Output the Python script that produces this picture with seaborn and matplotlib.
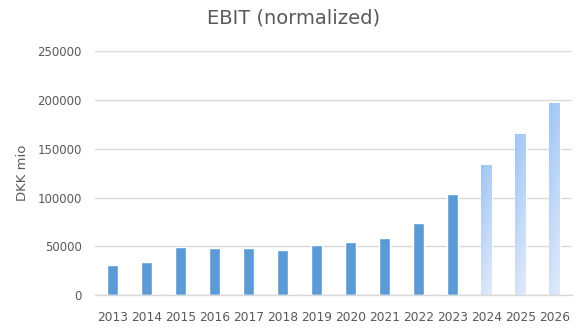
import numpy as np
import pandas as pd
import matplotlib
matplotlib.use("Agg")
import matplotlib.pyplot as plt
import matplotlib.ticker as mticker
from matplotlib.colors import LinearSegmentedColormap
import seaborn as sns

# EBIT (normalized), DKK mio; 2024 onwards are forecasts
years = [str(y) for y in range(2013, 2027)]
ebit = [31000, 34000, 49400, 48400, 48400, 46300, 51400,
        54500, 58700, 74100, 103900, 133600, 165400, 197200]
first_forecast = "2024"
y_ticks = [0, 50000, 100000, 150000, 200000, 250000]

df = pd.DataFrame({"year": years, "ebit": ebit})

sns.set_style("white")
plt.rcParams["font.family"] = ["DejaVu Sans"]

text_col = "#595959"
grid_col = "#d9d9d9"

fig = plt.figure(figsize=(5.87, 3.28), dpi=100)
ax = fig.add_axes([95.5 / 587, 1 - 295.3 / 328, 476 / 587, 244.3 / 328])

sns.barplot(data=df, x="year", y="ebit", color="#5b9bd5", saturation=1,
            width=0.32, ax=ax, zorder=2)

# forecast bars get a light blue gradient fill
grad_cmap = LinearSegmentedColormap.from_list("forecast", ["#dfeafb", "#a2c6f4"])
yy = np.linspace(0, 1, 256)[:, None]
xx = np.linspace(0, 1, 32)[None, :]
grad = np.clip(0.85 * yy + 0.25 * (1 - xx) - 0.05, 0, 1)
start = years.index(first_forecast)
for patch in ax.patches[start:len(years)]:
    x0, y0 = patch.get_x(), patch.get_y()
    w, h = patch.get_width(), patch.get_height()
    patch.set_facecolor("none")
    im = ax.imshow(grad, cmap=grad_cmap, origin="lower", aspect="auto",
                   extent=[x0, x0 + w, y0, y0 + h], vmin=0, vmax=1,
                   interpolation="bilinear", zorder=2)
    im.set_clip_path(patch)

ax.set_xlim(-0.5, len(years) - 0.5)
ax.set_ylim(0, 250000)
ax.set_yticks(y_ticks)
ax.yaxis.set_major_formatter(mticker.StrMethodFormatter("{x:.0f}"))
ax.yaxis.grid(True, color=grid_col, linewidth=1)
ax.set_axisbelow(True)
for side in ["top", "right", "left"]:
    ax.spines[side].set_visible(False)
ax.spines["bottom"].set_color(grid_col)
ax.spines["bottom"].set_linewidth(1)

ax.tick_params(axis="y", length=0, pad=10, labelsize=8.5, labelcolor=text_col)
ax.tick_params(axis="x", length=0, pad=11, labelsize=8.8, labelcolor=text_col)
ax.set_xlabel("")
ax.set_ylabel("")

fig.text(0.5, 1 - 18 / 328, "EBIT (normalized)", ha="center", va="center",
         fontsize=14, color=text_col)
fig.text(22 / 587, 1 - 173 / 328, "DKK mio", ha="center", va="center",
         rotation=90, fontsize=9.5, color=text_col)

fig.savefig("out.png", dpi=100)
